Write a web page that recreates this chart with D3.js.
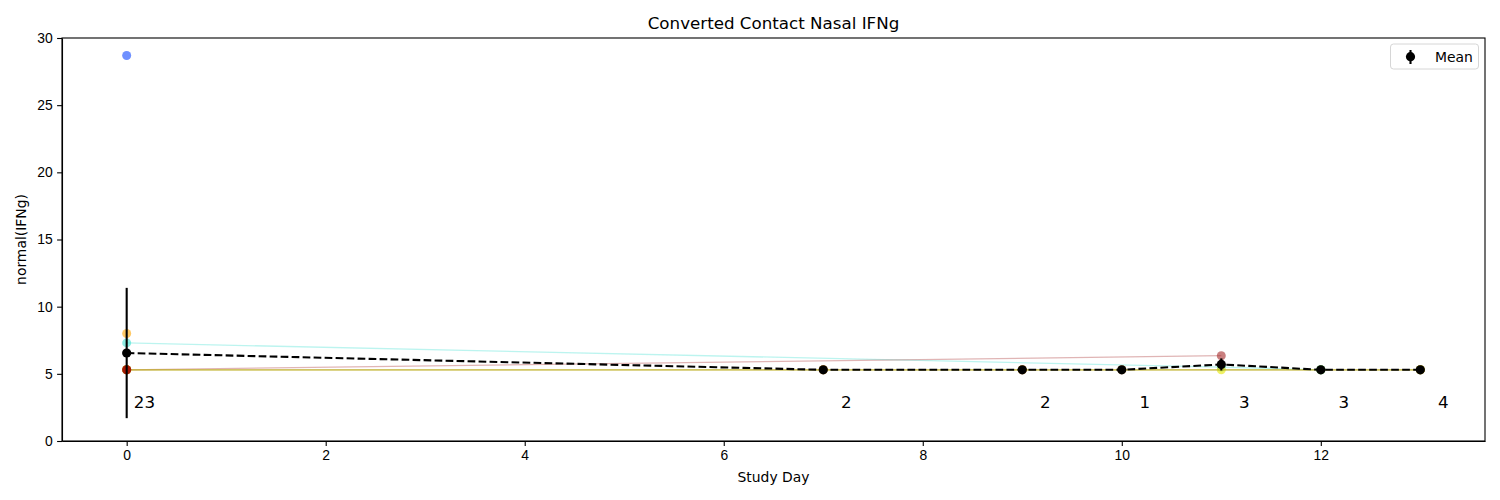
<!DOCTYPE html>
<html>
<head>
<meta charset="utf-8">
<script src="https://cdn.jsdelivr.net/npm/d3@7"></script>
<style>
  body { margin: 0; background: #fff; }
  svg { font-family: "DejaVu Sans", sans-serif; }
  .tick text { font-size: 13.9px; fill: #000; }
  .domain, .tick line { stroke: #000; stroke-width: 1.1px; }
</style>
</head>
<body>
<svg id="chart" width="1500" height="500"></svg>
<script>
var subjectColors = ["#2255ff", "orange", "#40e0d0", "#a52a2a", "#daa520", "#e6e600", "#3cb371", "#ff8c00", "#a00000"];
var subjectOpacity = [0.65, 0.6, 0.6, 0.6, 0.6, 0.6, 0.6, 0.6, 0.85];
var subjectDays = [[0], [0], [0, 11, 12], [0, 11], [0, 7, 9, 13], [0, 11, 12, 13], [0, 12, 13], [0, 7, 9, 10, 13], [0]];
var subjectValues = [[28.7], [8.0], [7.3, 5.5, 5.3], [5.3, 6.35], [5.3, 5.3, 5.3, 5.3], [5.3, 5.3, 5.3, 5.3], [5.3, 5.3, 5.3], [5.3, 5.3, 5.3, 5.3, 5.3], [5.3]];

// mean per study day
var meanDays = [0, 7, 9, 10, 11, 12, 13];
var meanValues = [6.55, 5.3, 5.3, 5.3, 5.7, 5.3, 5.3];
var meanErrors = [4.85, 0, 0, 0, 0.45, 0, 0];
var dayCounts = [23, 2, 2, 1, 3, 3, 4];

var xTicks = [0, 2, 4, 6, 8, 10, 12];
var yTicks = [0, 5, 10, 15, 20, 25, 30];

var margin = {left: 62, right: 15, top: 38, bottom: 59};
var width = 1500, height = 500;
var svg = d3.select("#chart");

var x = d3.scaleLinear().domain([-0.65, 13.65]).range([margin.left, width - margin.right]);
var y = d3.scaleLinear().domain([0, 30]).range([height - margin.bottom, margin.top]);

var line = d3.line().x(function (d) { return x(d[0]); }).y(function (d) { return y(d[1]); });

// subject lines and points
for (var i = 0; i < subjectColors.length; i++) {
	var pts = subjectDays[i].map(function (d, j) { return [d, subjectValues[i][j]]; });
	if (pts.length > 1)
		svg.append("path").datum(pts).attr("d", line)
			.attr("fill", "none").attr("stroke", subjectColors[i])
			.attr("stroke-width", 1.3).attr("stroke-opacity", 0.35);
	svg.selectAll(null).data(pts).enter().append("circle")
		.attr("cx", function (d) { return x(d[0]); })
		.attr("cy", function (d) { return y(d[1]); })
		.attr("r", 4.5)
		.attr("fill", subjectColors[i]).attr("fill-opacity", subjectOpacity[i]);
}

// mean line, error bars, markers
var meanPts = meanDays.map(function (d, j) { return [d, meanValues[j], meanErrors[j]]; });
svg.append("path").datum(meanPts).attr("d", line)
	.attr("fill", "none").attr("stroke", "#000")
	.attr("stroke-width", 2.1).attr("stroke-dasharray", "7.7,3.3");
svg.selectAll(null).data(meanPts.filter(function (d) { return d[2] > 0; })).enter().append("line")
	.attr("x1", function (d) { return x(d[0]); })
	.attr("x2", function (d) { return x(d[0]); })
	.attr("y1", function (d) { return y(d[1] - d[2]); })
	.attr("y2", function (d) { return y(d[1] + d[2]); })
	.attr("stroke", "#000").attr("stroke-width", 2.1);
svg.selectAll(null).data(meanPts).enter().append("circle")
	.attr("cx", function (d) { return x(d[0]); })
	.attr("cy", function (d) { return y(d[1]); })
	.attr("r", 4.6).attr("fill", "#000");

// counts
svg.selectAll(null).data(meanDays).enter().append("text")
	.attr("x", function (d) { return x(d + 0.285); })
	.attr("y", y(2.45))
	.attr("text-anchor", "end")
	.attr("font-size", "16.7px")
	.text(function (d, j) { return dayCounts[j]; });

// axes
svg.append("g").attr("transform", "translate(0," + (height - margin.bottom) + ")")
	.call(d3.axisBottom(x).tickValues(xTicks).tickSize(4.9).tickPadding(4.5).tickSizeOuter(0));
svg.append("g").attr("transform", "translate(" + margin.left + ",0)")
	.call(d3.axisLeft(y).tickValues(yTicks).tickSize(4.9).tickPadding(4.5).tickSizeOuter(0));
svg.append("rect")
	.attr("x", margin.left).attr("y", margin.top)
	.attr("width", width - margin.left - margin.right)
	.attr("height", height - margin.top - margin.bottom)
	.attr("fill", "none").attr("stroke", "#000").attr("stroke-width", 1.1);

// labels
svg.append("text").attr("x", (margin.left + width - margin.right) / 2).attr("y", 29)
	.attr("text-anchor", "middle").attr("font-size", "16.7px").text("Converted Contact Nasal IFNg");
svg.append("text").attr("x", (margin.left + width - margin.right) / 2).attr("y", 482)
	.attr("text-anchor", "middle").attr("font-size", "13.9px").text("Study Day");
svg.append("text").attr("transform", "translate(26," + ((margin.top + height - margin.bottom) / 2) + ") rotate(-90)")
	.attr("text-anchor", "middle").attr("font-size", "13.9px").text("normal(IFNg)");

// legend
var lg = svg.append("g").attr("transform", "translate(1390.5,44)");
lg.append("rect").attr("width", 88).attr("height", 25).attr("rx", 3)
	.attr("fill", "#fff").attr("fill-opacity", 0.8).attr("stroke", "#d6d6d6");
lg.append("line").attr("x1", 20).attr("x2", 20).attr("y1", 6).attr("y2", 20)
	.attr("stroke", "#000").attr("stroke-width", 2.1);
lg.append("circle").attr("cx", 20).attr("cy", 12.7).attr("r", 4.6).attr("fill", "#000");
lg.append("text").attr("x", 44.5).attr("y", 17.5).attr("font-size", "13.9px").text("Mean");
</script>
</body>
</html>
